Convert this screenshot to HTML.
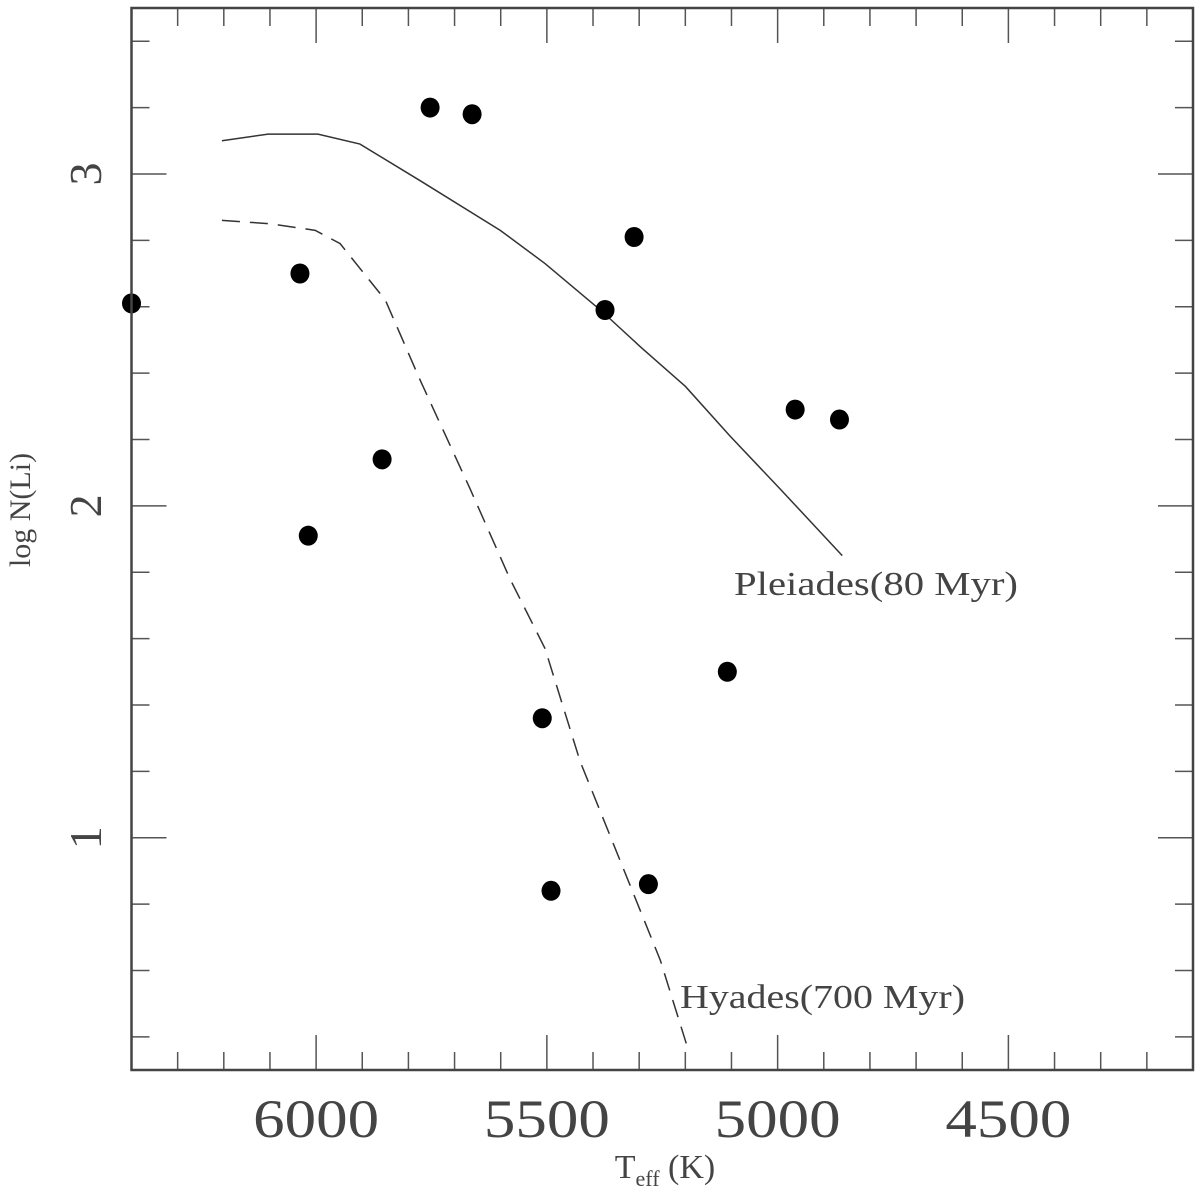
<!DOCTYPE html>
<html><head><meta charset="utf-8"><style>
html,body{margin:0;padding:0;background:#fff;}
svg{display:block;}
text{font-family:"Liberation Serif",serif;fill:#444;}
</style></head><body>
<svg id="chart" width="1200" height="1197" viewBox="0 0 1200 1197" xmlns="http://www.w3.org/2000/svg">
<g id="ticks"></g>
<g id="series"></g>
<rect x="131.5" y="8" width="1061.5" height="1062" fill="none" stroke="#444" stroke-width="2.5"/>
<text x="665" y="1178" font-size="34" text-anchor="middle">T<tspan font-size="22" dy="8">eff</tspan><tspan dy="-8"> (K)</tspan></text>
<text transform="translate(30,510) rotate(-90)" font-size="30" text-anchor="middle">log N(Li)</text>
<text x="734" y="595" font-size="34" textLength="284" lengthAdjust="spacingAndGlyphs">Pleiades(80 Myr)</text>
<text x="680" y="1008" font-size="34" textLength="285" lengthAdjust="spacingAndGlyphs">Hyades(700 Myr)</text>
</svg>
<script>
const xTickLabels = [6000, 5500, 5000, 4500];
const yTickLabels = [1, 2, 3];
const starTeff = [6400, 6035, 6017, 5857, 5753, 5662, 5510, 5491, 5374, 5311, 5280, 5109, 4962, 4866];
const starLi   = [2.61, 2.70, 1.91, 2.14, 3.20, 3.18, 1.36, 0.84, 2.59, 2.81, 0.86, 1.50, 2.29, 2.26];
const pleiadesTeff = [6204, 6104, 5996, 5905, 5775, 5601, 5504, 5384, 5298, 5200, 5103, 4994, 4860];
const pleiadesLi   = [3.10, 3.12, 3.12, 3.09, 2.98, 2.83, 2.73, 2.59, 2.48, 2.36, 2.21, 2.05, 1.85];
const hyadesTeff = [6204, 6100, 6002, 5948, 5850, 5775, 5666, 5580, 5504, 5428, 5341, 5254, 5198];
const hyadesLi   = [2.86, 2.85, 2.83, 2.79, 2.62, 2.38, 2.05, 1.78, 1.57, 1.23, 0.93, 0.63, 0.38];

const NS = "http://www.w3.org/2000/svg";
const L = 131.5, R = 1193, T = 8, B = 1070;
const xMax = 6400, xMin = 4100, yMin = 0.3, yMax = 3.5;
const xs = t => L + (xMax - t) / (xMax - xMin) * (R - L);
const ys = v => B - (v - yMin) / (yMax - yMin) * (B - T);
function mk(tag, attrs, parent) {
  const e = document.createElementNS(NS, tag);
  for (const k in attrs) e.setAttribute(k, attrs[k]);
  parent.appendChild(e);
  return e;
}
const tg = document.getElementById('ticks');
const sg = document.getElementById('series');
// x ticks every 100 K
for (let t = 6300; t > xMin; t -= 100) {
  const x = xs(t);
  const major = t % 500 === 0;
  const len = major ? 35 : 18;
  const a = mk('line', {x1: x, x2: x, y1: B, y2: B - len, stroke: '#555', 'stroke-width': 1.5}, tg);
  
  
  const b = mk('line', {x1: x, x2: x, y1: T, y2: T + len, stroke: '#555', 'stroke-width': 1.5}, tg);
  
  
}
// y ticks every 0.2
for (let i = 2; i <= 17; i++) {
  const v = i * 0.2;
  const y = ys(v);
  const major = Math.abs(v - Math.round(v)) < 1e-6;
  const len = major ? 35 : 18;
  const a = mk('line', {x1: L, x2: L + len, y1: y, y2: y, stroke: '#555', 'stroke-width': 1.5}, tg);
  
  
  const b = mk('line', {x1: R, x2: R - len, y1: y, y2: y, stroke: '#555', 'stroke-width': 1.5}, tg);
  
  
}
xTickLabels.forEach(t => {
  const e = mk('text', {x: xs(t), y: 1137, 'font-size': 54, 'text-anchor': 'middle', textLength: 126, lengthAdjust: 'spacingAndGlyphs', fill: '#555'}, tg);
  e.textContent = t;
  
  
});
yTickLabels.forEach(v => {
  const e = mk('text', {transform: `translate(101,${ys(v)}) rotate(-90)`, 'font-size': 46, 'text-anchor': 'middle', fill: '#555'}, tg);
  e.textContent = v;
  
  
});
const pp = pleiadesTeff.map((t, i) => xs(t) + ',' + ys(pleiadesLi[i])).join(' ');
const pl = mk('polyline', {points: pp, fill: 'none', stroke: '#333', 'stroke-width': 1.5}, sg);


const hp = hyadesTeff.map((t, i) => xs(t) + ',' + ys(hyadesLi[i])).join(' ');
const hl = mk('polyline', {points: hp, fill: 'none', stroke: '#333', 'stroke-width': 1.5, 'stroke-dasharray': '18,10'}, sg);


starTeff.forEach((t, i) => {
  const c = mk('ellipse', {cx: xs(t), cy: ys(starLi[i]), rx: 9.5, ry: 10, fill: '#000'}, sg);
  
  
});
</script>
</body></html>
